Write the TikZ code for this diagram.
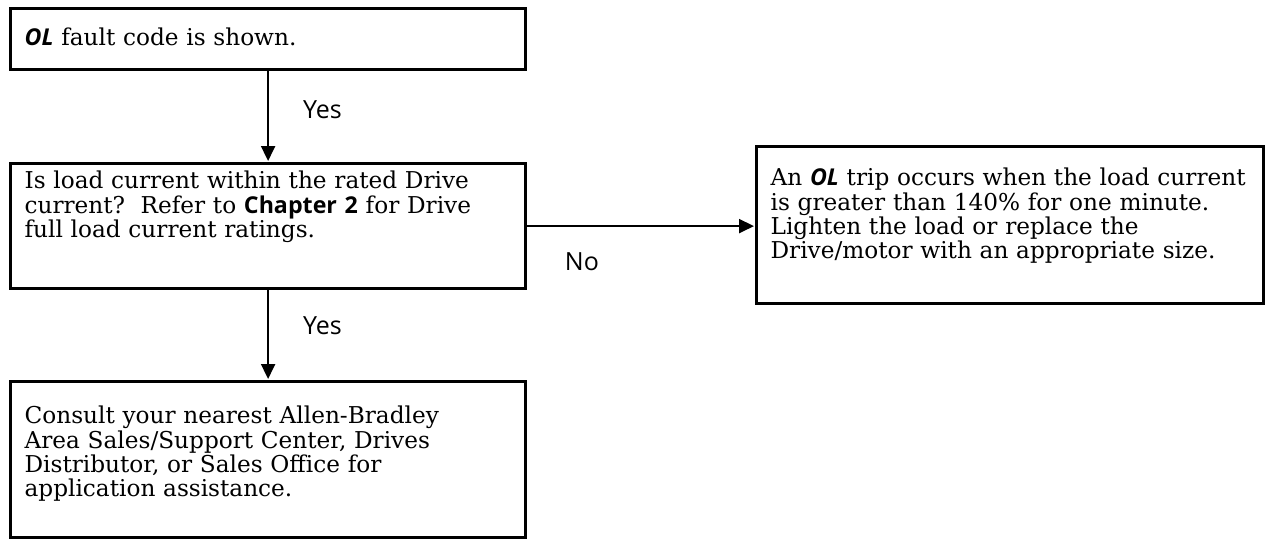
\documentclass[tikz,border=0pt]{standalone}
\usepackage{fontspec}
\setmainfont{DejaVu Serif}
\setsansfont{Open Sans}
\usetikzlibrary{positioning, arrows.meta}

\newcommand{\olcode}{{\sffamily\bfseries\itshape OL}}

\tikzset{
  box/.style={draw, line width=1.6pt, anchor=north west, text width=#1, align=left,
    inner xsep=7pt, inner ysep=0pt, font=\fontsize{11.6}{12.2}\selectfont},
  lbl/.style={font=\sffamily\fontsize{12.5}{14}\selectfont, inner sep=0pt},
  arr/.style={-{Triangle[length=7.5pt, width=7pt]}, line width=1pt, shorten >=0.5pt},
}

\begin{document}
\begin{tikzpicture}[x=1pt, y=-1pt]
      \useasboundingbox (0,0) rectangle (634.5,269);
      \node[box=243.5pt, text height=18.5pt, text depth=12pt] (fault) at (4.5,3.5)
            {\olcode{} fault code is shown.};
      \node[box=243.5pt, text height=12.5pt, text depth=50pt] (check) at (4.5,81)
            {Is load current within the rated Drive\\
             current?\ \ Refer to {\sffamily\bfseries Chapter 2} for Drive\\
             full load current ratings.};
      \node[box=239.4pt, text height=19.5pt, text depth=59pt] (trip) at (377.5,72.5)
            {An \olcode{} trip occurs when the load current\\
             is greater than 140\% for one minute.\\
             Lighten the load or replace the\\
             Drive/motor with an appropriate size.};
      \node[box=243.5pt, text height=21pt, text depth=57pt] (consult) at (4.5,190)
            {Consult your nearest Allen-Bradley\\
             Area Sales/Support Center, Drives\\
             Distributor, or Sales Office for\\
             application assistance.};

      \draw[arr] (fault) -- node[lbl, pos=0.42, right=17pt] {Yes} (check);
      \draw[arr] (check) -- node[lbl, pos=0.39, right=17pt] {Yes} (consult);
      \draw[arr] (check.east) -- node[lbl, pos=0.24, below=13pt] {No} (check.east -| trip.west);
    \end{tikzpicture}
\end{document}
